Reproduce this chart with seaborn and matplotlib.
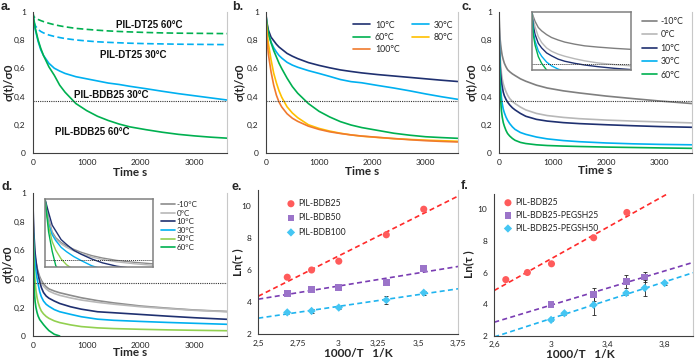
import numpy as np
import matplotlib
matplotlib.use("Agg")
import matplotlib.pyplot as plt
import seaborn as sns

# ---- panel a : relaxation, PIL-DT25 vs PIL-BDB25 ----
t_a = [0, 20, 50, 100, 150, 200, 300, 400, 500, 600, 800, 1000, 1200, 1400,
       1600, 1800, 2100, 2400, 2700, 3000, 3300, 3600]
bdb25_60 = [1.0, 0.95, 0.88, 0.80, 0.74, 0.69, 0.61, 0.55, 0.48, 0.43, 0.35, 0.30,
            0.26, 0.23, 0.205, 0.185, 0.165, 0.147, 0.132, 0.121, 0.112, 0.105]
bdb25_30 = [1.0, 0.93, 0.87, 0.79, 0.73, 0.69, 0.635, 0.60, 0.58, 0.563, 0.54, 0.525,
            0.51, 0.495, 0.485, 0.472, 0.455, 0.437, 0.42, 0.405, 0.39, 0.375]
dt25_60 = [1.0, 0.965, 0.955, 0.945, 0.937, 0.93, 0.918, 0.908, 0.90, 0.893, 0.882, 0.875,
           0.869, 0.864, 0.86, 0.857, 0.853, 0.85, 0.848, 0.847, 0.846, 0.845]
dt25_30 = [1.0, 0.93, 0.90, 0.875, 0.86, 0.85, 0.835, 0.825, 0.817, 0.81, 0.80, 0.793,
           0.787, 0.783, 0.78, 0.777, 0.774, 0.772, 0.77, 0.769, 0.768, 0.767]

# ---- panel b : PIL-BDB25 at several temperatures ----
t_b = [0, 20, 50, 100, 150, 200, 250, 300, 400, 500, 600, 800, 1000, 1200, 1400,
       1600, 1800, 2100, 2400, 2700, 3000, 3300, 3600]
b_10 = [1, 0.93, 0.87, 0.82, 0.795, 0.77, 0.75, 0.735, 0.705, 0.685, 0.668, 0.64, 0.62,
        0.603, 0.588, 0.577, 0.567, 0.555, 0.545, 0.535, 0.525, 0.515, 0.506]
b_30 = [1, 0.9, 0.84, 0.785, 0.745, 0.715, 0.69, 0.672, 0.642, 0.622, 0.607, 0.583, 0.563,
        0.542, 0.52, 0.505, 0.497, 0.478, 0.46, 0.44, 0.418, 0.398, 0.38]
b_60 = [1, 0.92, 0.85, 0.78, 0.725, 0.68, 0.635, 0.598, 0.53, 0.47, 0.423, 0.35, 0.295,
        0.255, 0.222, 0.198, 0.18, 0.16, 0.14, 0.126, 0.115, 0.109, 0.104]
b_80 = [1, 0.875, 0.775, 0.66, 0.565, 0.497, 0.44, 0.395, 0.327, 0.283, 0.25, 0.2, 0.174,
        0.155, 0.14, 0.128, 0.119, 0.11, 0.102, 0.096, 0.091, 0.087, 0.083]
b_100 = [1, 0.82, 0.70, 0.575, 0.48, 0.41, 0.36, 0.326, 0.278, 0.246, 0.224, 0.19, 0.167,
         0.15, 0.138, 0.128, 0.12, 0.111, 0.102, 0.094, 0.087, 0.082, 0.078]

# ---- panels c and d ----
t_cd = [0, 5, 10, 20, 30, 45, 60, 80, 100, 130, 160, 200, 250, 300, 400, 500, 700,
        900, 1200, 1500, 2000, 2500, 3000, 3600]
c_m10 = [1, 0.94, 0.885, 0.81, 0.77, 0.725, 0.69, 0.66, 0.635, 0.61, 0.59, 0.575, 0.56,
         0.548, 0.525, 0.508, 0.48, 0.46, 0.44, 0.425, 0.403, 0.385, 0.368, 0.35]
c_0 = [1, 0.9, 0.82, 0.7, 0.63, 0.565, 0.525, 0.49, 0.465, 0.435, 0.41, 0.385, 0.365,
       0.35, 0.325, 0.305, 0.28, 0.265, 0.252, 0.243, 0.233, 0.226, 0.22, 0.213]
c_10 = [1, 0.83, 0.73, 0.62, 0.565, 0.505, 0.47, 0.43, 0.405, 0.38, 0.36, 0.34, 0.32,
        0.305, 0.28, 0.26, 0.238, 0.226, 0.215, 0.208, 0.2, 0.193, 0.187, 0.182]
c_30 = [1, 0.76, 0.65, 0.53, 0.465, 0.395, 0.35, 0.31, 0.285, 0.255, 0.232, 0.208, 0.185,
        0.167, 0.145, 0.132, 0.113, 0.1, 0.088, 0.08, 0.071, 0.065, 0.061, 0.058]
c_60 = [1, 0.72, 0.6, 0.46, 0.38, 0.3, 0.255, 0.215, 0.19, 0.16, 0.138, 0.12, 0.103,
        0.09, 0.075, 0.067, 0.058, 0.053, 0.049, 0.046, 0.042, 0.039, 0.036, 0.033]

d_m10 = [1, 0.9, 0.8, 0.66, 0.6, 0.55, 0.515, 0.48, 0.45, 0.415, 0.39, 0.365, 0.345,
         0.33, 0.315, 0.303, 0.285, 0.268, 0.248, 0.232, 0.21, 0.195, 0.182, 0.172]
d_0 = [1, 0.88, 0.78, 0.64, 0.585, 0.535, 0.5, 0.465, 0.435, 0.4, 0.375, 0.35, 0.33,
       0.315, 0.298, 0.285, 0.267, 0.252, 0.236, 0.223, 0.205, 0.192, 0.18, 0.17]
d_10 = [1, 0.93, 0.86, 0.73, 0.67, 0.58, 0.53, 0.47, 0.43, 0.38, 0.34, 0.305, 0.28,
        0.265, 0.245, 0.228, 0.205, 0.188, 0.17, 0.163, 0.151, 0.139, 0.128, 0.117]
d_30 = [1, 0.85, 0.74, 0.63, 0.57, 0.5, 0.455, 0.405, 0.365, 0.31, 0.275, 0.245, 0.222,
        0.208, 0.185, 0.17, 0.152, 0.135, 0.118, 0.11, 0.102, 0.095, 0.089, 0.082]
d_50 = [1, 0.85, 0.72, 0.56, 0.47, 0.38, 0.32, 0.27, 0.235, 0.2, 0.175, 0.155, 0.137,
        0.124, 0.106, 0.094, 0.078, 0.066, 0.057, 0.052, 0.047, 0.043, 0.04, 0.037]
d_60 = [1, 0.83, 0.66, 0.46, 0.31, 0.24, 0.2, 0.165, 0.14, 0.115, 0.1, 0.08, 0.058,
        0.038, 0.012, 0.0, np.nan, np.nan, np.nan, np.nan, np.nan, np.nan, np.nan, np.nan]

tau_level = 0.368  # 1/e

# ---- panels e and f : Arrhenius plots ----
inv_T = [2.681, 2.833, 3.003, 3.300, 3.534]
ln_bdb25 = [5.55, 6.0, 6.55, 8.2, 9.8]
ln_bdb50 = [4.55, 4.8, 4.9, 5.2, 6.1]
err_bdb50 = [0.15, 0.1, 0.1, 0.12, 0.15]
ln_bdb100 = [3.35, 3.44, 3.65, 4.12, 4.58]
err_bdb100 = [0.1, 0.1, 0.1, 0.25, 0.12]

inv_T_peg25 = [3.0, 3.3, 3.53, 3.66]
ln_peg25 = [4.0, 4.6, 5.45, 5.72]
err_peg25 = [0.1, 0.42, 0.42, 0.32]
inv_T_peg50 = [3.0, 3.094, 3.3, 3.53, 3.66, 3.8]
ln_peg50 = [3.0, 3.42, 3.95, 4.7, 5.02, 5.33]
err_peg50 = [0.1, 0.1, 0.62, 0.15, 0.48, 0.1]

# ticks
sig_ticks = [0, 0.2, 0.4, 0.6, 0.8, 1]
sig_labels = ["0", "0,2", "0,4", "0,6", "0,8", "1"]
time_ticks = [0, 1000, 2000, 3000]
time_labels = ["0", "1000", "2000", "3000"]
time_minor = [500, 1500, 2500, 3500]
ln_ticks = [2, 4, 6, 8, 10]
ln_labels = ["2", "4", "6", "8", "10"]
e_ticks = [2.5, 2.75, 3, 3.25, 3.5, 3.75]
e_labels = ["2,5", "2,75", "3", "3,25", "3,5", "3,75"]
f_ticks = [2.6, 3.0, 3.4, 3.8]
f_labels = ["2,6", "3", "3,4", "3,8"]
f_minor = [2.8, 3.2, 3.6]

# colours
GREEN, LBLUE, NAVY = "#00b050", "#00b0f0", "#1f3070"
YELLOW, ORANGE, LGREEN = "#ffc000", "#f07a2e", "#92d050"
GRAY1, GRAY2 = "#7f7f7f", "#b8b8b8"
AX = "#404040"

sns.set_style("white")
plt.rcParams["font.family"] = ["Lato", "DejaVu Sans"]
BOLD = ["Liberation Sans", "DejaVu Sans"]

W, H = 698, 362
fig = plt.figure(figsize=(W / 100, H / 100), dpi=100)


def box(l, t, r, b):
    return [l / W, 1 - b / H, (r - l) / W, (b - t) / H]


def fpos(x, y):
    return (x / W, 1 - y / H)


def frame(ax, xlim, ylim, xt, xl, yt, yl, xminor=None):
    ax.set_xlim(xlim)
    ax.set_ylim(ylim)
    ax.set_xticks(xt)
    ax.set_xticklabels(xl)
    if xminor:
        ax.set_xticks(xminor, minor=True)
    ax.set_yticks(yt)
    ax.set_yticklabels(yl)
    for s in ["left", "bottom"]:
        ax.spines[s].set_color(AX)
        ax.spines[s].set_linewidth(0.8)
    ax.spines["top"].set_visible(False)
    ax.spines["right"].set_color("#c8c8c8")
    ax.spines["right"].set_linewidth(0.8)
    ax.tick_params(axis="x", which="both", direction="in", length=3, width=0.6,
                   color=AX, labelsize=6, pad=4, labelcolor="#222222")
    ax.tick_params(axis="y", direction="out", length=2, width=0.6, color=AX,
                   labelsize=6, pad=3, labelcolor="#222222")
    ax.set_xlabel("")
    ax.set_ylabel("")


def labels(ax, xlab, xy_x, ylab, xy_y):
    ax.set_xlabel(xlab, fontsize=8.5, fontweight="bold")
    ax.xaxis.set_label_coords(*fpos(*xy_x), transform=fig.transFigure)
    ax.xaxis.label.set_va("center")
    ax.set_ylabel(ylab, fontsize=8.5, fontweight="bold")
    ax.yaxis.set_label_coords(*fpos(*xy_y), transform=fig.transFigure)
    ax.yaxis.label.set_va("center")


def curve(ax, t, v, color, label=None, dashes=None, lw=1.2):
    sns.lineplot(x=t, y=v, ax=ax, color=color, lw=lw, label=label, legend=False)
    ln = ax.lines[-1]
    if dashes:
        ln.set_dashes(dashes)
    return ln


def inset(rect, series):
    ia = fig.add_axes(box(*rect))
    ia.set_facecolor("white")
    for t, v, c in series:
        curve(ia, t, v, c, lw=1.0)
    ia.axhline(tau_level, color="#333333", ls=(0, (1, 1)), lw=0.7)
    ia.set_xlim(0, 300)
    ia.set_ylim(0.3, 1)
    ia.set_xticks([])
    ia.set_yticks([])
    ia.set_xlabel("")
    ia.set_ylabel("")
    for s in ia.spines.values():
        s.set_visible(True)
        s.set_color("#808080")
        s.set_linewidth(1.1)
    return ia


# ---------------- a ----------------
ax_a = fig.add_axes(box(32.7, 11.7, 227, 153))
curve(ax_a, t_a, dt25_60, GREEN, dashes=(4, 2))
curve(ax_a, t_a, dt25_30, LBLUE, dashes=(4, 2))
curve(ax_a, t_a, bdb25_30, LBLUE)
curve(ax_a, t_a, bdb25_60, GREEN)
ax_a.axhline(tau_level, color="#333333", ls=(0, (1, 1)), lw=0.8)
frame(ax_a, (0, 3600), (0, 1), time_ticks, time_labels, sig_ticks, sig_labels, time_minor)
labels(ax_a, "Time s", (130, 172.5), "σ(t)/σ0", (8.5, 82))
for txt, x, y in [("PIL-DT25 60°C", 149, 25), ("PIL-DT25 30°C", 133, 54.5),
                  ("PIL-BDB25 30°C", 111.5, 94.5), ("PIL-BDB25 60°C", 92.5, 132)]:
    fig.text(*fpos(x, y), txt, ha="center", va="center", fontsize=7,
             fontweight="bold", family=BOLD, color="#111111")

# ---------------- b ----------------
ax_b = fig.add_axes(box(265.7, 11.7, 457.7, 153))
hb = {}
for key, v, c in [("10°C", b_10, NAVY), ("30°C", b_30, LBLUE), ("60°C", b_60, GREEN),
                  ("80°C", b_80, YELLOW), ("100°C", b_100, ORANGE)]:
    hb[key] = curve(ax_b, t_b, v, c, label=key)
ax_b.axhline(tau_level, color="#333333", ls=(0, (1, 1)), lw=0.8)
frame(ax_b, (0, 3600), (0, 1), time_ticks, time_labels, sig_ticks, sig_labels, time_minor)
labels(ax_b, "Time s", (361.7, 171.5), "σ(t)/σ0", (239, 82))
order = ["10°C", "60°C", "100°C", "30°C", "80°C"]
ax_b.legend([hb[k] for k in order], order, ncol=2, loc="upper left",
            bbox_to_anchor=fpos(353, 20.5), bbox_transform=fig.transFigure,
            frameon=False, fontsize=6.3, handlelength=1.9, handletextpad=0.6,
            columnspacing=1.4, labelspacing=0.35, borderpad=0, borderaxespad=0)

# ---------------- c ----------------
ax_c = fig.add_axes(box(499, 11.7, 691.7, 153))
c_series = [("-10°C", c_m10, GRAY1), ("0°C", c_0, GRAY2), ("10°C", c_10, NAVY),
            ("30°C", c_30, LBLUE), ("60°C", c_60, GREEN)]
for key, v, c in c_series:
    curve(ax_c, t_cd, v, c, label=key)
ax_c.axhline(tau_level, color="#333333", ls=(0, (1, 1)), lw=0.8)
frame(ax_c, (0, 3600), (0, 1), time_ticks, time_labels, sig_ticks, sig_labels, time_minor)
labels(ax_c, "Time s", (595, 170.5), "σ(t)/σ0", (471, 82))
ax_c.legend(loc="upper left", bbox_to_anchor=fpos(642, 17), bbox_transform=fig.transFigure,
            frameon=False, fontsize=6.3, handlelength=1.7, handletextpad=0.4,
            labelspacing=0.5, borderpad=0, borderaxespad=0)
inset((531.7, 11.7, 631, 70), [(t_cd, v, c) for _, v, c in c_series])

# ---------------- d ----------------
ax_d = fig.add_axes(box(32.7, 193.3, 227, 336))
d_series = [("-10°C", d_m10, "#8c8c8c"), ("0°C", d_0, GRAY2), ("10°C", d_10, NAVY),
            ("30°C", d_30, LBLUE), ("50°C", d_50, LGREEN), ("60°C", d_60, GREEN)]
for key, v, c in d_series:
    curve(ax_d, t_cd, v, c, label=key)
ax_d.axhline(tau_level, color="#333333", ls=(0, (1, 1)), lw=0.8)
frame(ax_d, (0, 3600), (0, 1), time_ticks, time_labels, sig_ticks, sig_labels, time_minor)
labels(ax_d, "Time s", (130, 353), "σ(t)/σ0", (7.5, 264))
ax_d.legend(loc="upper left", bbox_to_anchor=fpos(161, 201), bbox_transform=fig.transFigure,
            frameon=False, fontsize=5.8, handlelength=1.7, handletextpad=0.25,
            labelspacing=0.2, borderpad=0, borderaxespad=0)
inset((45, 199, 152.7, 266.7), [(t_cd, v, c) for _, v, c in d_series])

# ---------------- e ----------------
RED_M, PUR_M, BLU_M = "#ff5b5b", "#9b74c9", "#45c6f3"
RED_L, PUR_L, BLU_L = "#ff2a2a", "#7a3db3", "#20b4ef"
ax_e = fig.add_axes(box(258.3, 190, 458.3, 334))
frame(ax_e, (2.5, 3.75), (2, 11), e_ticks, e_labels, ln_ticks, ln_labels)
for y, c in [(ln_bdb25, RED_L), (ln_bdb50, PUR_L), (ln_bdb100, BLU_L)]:
    sns.regplot(x=inv_T, y=y, ax=ax_e, scatter=False, ci=None, truncate=False,
                line_kws=dict(color=c, lw=1.2, ls=(0, (3, 2))))
ax_e.errorbar(inv_T, ln_bdb50, yerr=err_bdb50, fmt="none", ecolor="#222222",
              elinewidth=0.6, capsize=1.5, capthick=0.6, zorder=3)
ax_e.errorbar(inv_T, ln_bdb100, yerr=err_bdb100, fmt="none", ecolor="#222222",
              elinewidth=0.6, capsize=1.5, capthick=0.6, zorder=3)
sns.scatterplot(x=inv_T, y=ln_bdb25, ax=ax_e, color=RED_M, marker="o", s=26,
                edgecolor="none", label="PIL-BDB25", zorder=4)
sns.scatterplot(x=inv_T, y=ln_bdb50, ax=ax_e, color=PUR_M, marker="s", s=24,
                edgecolor="none", label="PIL-BDB50", zorder=4)
sns.scatterplot(x=inv_T, y=ln_bdb100, ax=ax_e, color=BLU_M, marker="D", s=18,
                edgecolor="none", label="PIL-BDB100", zorder=4)
frame(ax_e, (2.5, 3.75), (2, 11), e_ticks, e_labels, ln_ticks, ln_labels)
ax_e.spines["top"].set_visible(False)
labels(ax_e, "1000/T   1/K", (358.3, 353.5), "Ln(τ )", (237.5, 262))
ax_e.legend(loc="upper left", bbox_to_anchor=fpos(287.5, 199), bbox_transform=fig.transFigure,
            frameon=False, fontsize=6.2, handlelength=0.8, handletextpad=0.45,
            labelspacing=0.62, borderpad=0, borderaxespad=0)

# ---------------- f ----------------
ax_f = fig.add_axes(box(494.3, 193.5, 693, 335.7))
frame(ax_f, (2.6, 4.0), (2, 11), f_ticks, f_labels, ln_ticks, ln_labels, f_minor)
for x, y, c in [(inv_T, ln_bdb25, RED_L), (inv_T_peg25, ln_peg25, PUR_L),
                (inv_T_peg50, ln_peg50, BLU_L)]:
    sns.regplot(x=x, y=y, ax=ax_f, scatter=False, ci=None, truncate=False,
                line_kws=dict(color=c, lw=1.2, ls=(0, (3, 2))))
ax_f.errorbar(inv_T_peg25, ln_peg25, yerr=err_peg25, fmt="none", ecolor="#222222",
              elinewidth=0.6, capsize=1.5, capthick=0.6, zorder=3)
ax_f.errorbar(inv_T_peg50, ln_peg50, yerr=err_peg50, fmt="none", ecolor="#222222",
              elinewidth=0.6, capsize=1.5, capthick=0.6, zorder=3)
sns.scatterplot(x=inv_T, y=ln_bdb25, ax=ax_f, color=RED_M, marker="o", s=26,
                edgecolor="none", label="PIL-BDB25", zorder=4)
sns.scatterplot(x=inv_T_peg25, y=ln_peg25, ax=ax_f, color=PUR_M, marker="s", s=24,
                edgecolor="none", label="PIL-BDB25-PEGSH25", zorder=4)
sns.scatterplot(x=inv_T_peg50, y=ln_peg50, ax=ax_f, color=BLU_M, marker="D", s=18,
                edgecolor="none", label="PIL-BDB25-PEGSH50", zorder=4)
frame(ax_f, (2.6, 4.0), (2, 11), f_ticks, f_labels, ln_ticks, ln_labels, f_minor)
labels(ax_f, "1000/T   1/K", (580, 355), "Ln(τ )", (468.5, 264))
ax_f.legend(loc="upper left", bbox_to_anchor=fpos(504.5, 198), bbox_transform=fig.transFigure,
            frameon=False, fontsize=6.2, handlelength=0.8, handletextpad=0.45,
            labelspacing=0.45, borderpad=0, borderaxespad=0)

# panel letters
for letter, x, y in [("a.", 1, 7), ("b.", 232, 7), ("c.", 462, 7),
                     ("d.", 1, 187), ("e.", 232, 187), ("f.", 461, 186)]:
    fig.text(*fpos(x, y), letter, ha="left", va="center", fontsize=9,
             fontweight="bold", family=BOLD)

fig.savefig("out.png", dpi=100)
